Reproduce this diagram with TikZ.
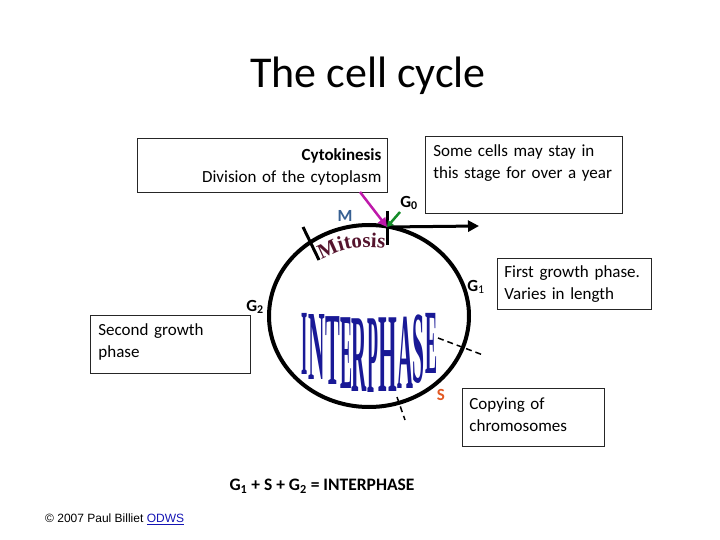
\documentclass[tikz,border=0pt]{standalone}
\usepackage{fontspec}
\setmainfont{Carlito}
\newfontfamily\arialfont{Liberation Sans}
\newfontfamily\timesfont{Liberation Serif}
\usetikzlibrary{arrows.meta,decorations.text}

\definecolor{mblue}{RGB}{55,96,146}
\definecolor{sorange}{RGB}{226,88,34}
\definecolor{cytomag}{RGB}{190,25,170}
\definecolor{gzgreen}{RGB}{20,140,40}
\definecolor{wordblue}{RGB}{25,25,150}
\definecolor{mitred}{RGB}{85,20,45}
\definecolor{linkblue}{RGB}{20,20,180}

\tikzset{
  infobox/.style={draw=black!85, line width=0.8pt, anchor=north west,
    inner ysep=0pt, font=\fontsize{17}{22}\selectfont},
  phaselabel/.style={font=\fontsize{17}{17}\selectfont\bfseries, inner sep=0pt},
  phasetick/.style={line width=3pt},
  wordart/.style={font=\timesfont\bfseries\fontsize{20}{20}\selectfont, text=wordblue,
    inner sep=0pt, anchor=north}
}

\begin{document}
\begin{tikzpicture}[x=1pt,y=1pt]
\useasboundingbox (0,0) rectangle (720,-540);

\node[font=\fontsize{44}{44}\selectfont] (title) at (368,-76) {The cell cycle};

% text boxes
\node[infobox, text width=238, inner xsep=6, align=right, text height=22, text depth=32]
  (cyto) at (137,-138) {{\bfseries Cytokinesis}\\Division of the cytoplasm};
\node[infobox, text width=185, inner xsep=6, align=left, text height=20, text depth=57]
  (gzbox) at (425,-136) {\hspace{2pt}Some cells may stay in\\\hspace{2pt}this stage for over a year};
\node[infobox, text width=140, inner xsep=7, align=left, text height=19, text depth=32]
  (gonebox) at (497,-258) {First growth phase.\\Varies in length};
\node[infobox, text width=144, inner xsep=8, align=left, text height=20, text depth=38]
  (gtwobox) at (90,-315) {Second growth\\phase};
\node[infobox, text width=128, inner xsep=7, align=left, text height=21, text depth=37]
  (sbox) at (462,-388) {Copying of\\chromosomes};

% the cycle
\draw[line width=4pt] (369,-316) ellipse [x radius=100, y radius=91];
\coordinate (gzero) at (387,-227);
\coordinate (cytofoot) at (360,-192);
\coordinate (gzfoot) at (400,-212);
\coordinate (exit) at (479,-226);
\draw[phasetick] (387,-211) -- (387,-245);
\draw[phasetick] (303,-227) -- (319,-260);
\draw[-{Triangle[length=11pt,width=11pt]}, line width=3pt] (gzero) -- (exit);
\draw[cytomag, line width=2.5pt, -{Triangle[length=9pt,width=9pt]}] (cytofoot) -- (gzero);
\draw[gzgreen, line width=2.5pt, -{Triangle[length=6pt,width=7pt]}] (gzfoot) -- (gzero);
\draw[dashed, line width=1.5pt, dash pattern=on 6pt off 4pt] (438,-338) -- (483,-355);
\draw[dashed, line width=1.5pt, dash pattern=on 6pt off 4pt] (397,-397) -- (405,-420);

% phase labels
\node[phaselabel] (glab0) at (409,-203) {G\textsubscript{0}};
\node[phaselabel, text=mblue] (mlab) at (345,-216) {M};
\node[phaselabel] (glab1) at (476,-287) {G\textsubscript{\mdseries 1}};
\node[phaselabel] (glab2) at (255,-307) {G\textsubscript{2}};
\node[phaselabel, text=sorange] (slab) at (441,-395) {S};

% word art
\path[decorate, decoration={text along path, text align=center,
  text={|\timesfont\bfseries\fontsize{21}{21}\selectfont\color{mitred}|Mitosis}}]
  (323,-259) arc[start angle=124, end angle=80, x radius=82, y radius=70];
\foreach \ch/\lx/\ltop/\lhgt/\lxs [count=\i] in {I/305/312/63/0.8, N/316.5/314/67/1.15,
    T/332.5/316/70/1.1, E/346/317/73/0.9, R/359.5/318/75/1.05, P/372.5/318/76/0.9,
    H/387.5/317/76/1.2, A/405/316/73/1.1, S/419/314/69/1.08, E/431/312/62/0.9}
  \node[wordart, xscale=\lxs, yscale=\lhgt/13.5] (ip\i) at (\lx,-\ltop) {\ch};

\node[font=\fontsize{17.5}{17.5}\selectfont\bfseries] (sum) at (322,-486)
  {G\textsubscript{1} + S + G\textsubscript{2} = INTERPHASE};
\node[font=\arialfont\fontsize{12}{12}\selectfont, anchor=west, inner sep=0pt] (credit) at (45,-519)
  {\textcopyright{} 2007 Paul Billiet \textcolor{linkblue}{\underline{ODWS}}};
\end{tikzpicture}
\end{document}
